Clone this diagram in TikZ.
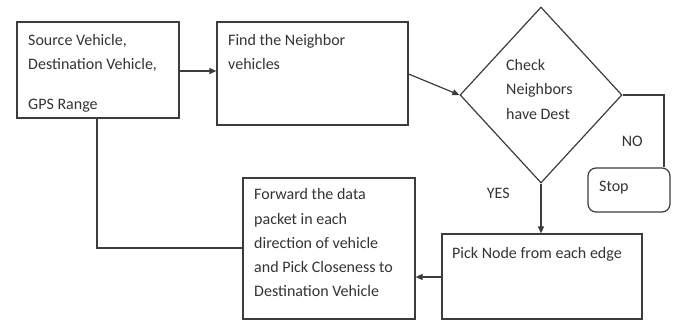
\documentclass[tikz,border=0pt]{standalone}
\usepackage{fontspec}
\setmainfont{Carlito}
\usetikzlibrary{shapes.geometric,arrows.meta}
\definecolor{ln}{HTML}{3C3C3C}
\definecolor{tx}{HTML}{333333}
\tikzset{
  box/.style={draw=ln,line width=1.2pt,rectangle,inner sep=0pt},
  txt/.style={text=tx,align=left,anchor=base west,inner sep=0pt,font=\fontsize{16}{24.3}\selectfont},
  conn/.style={draw=ln,line width=1.2pt},
  arr/.style={conn,-{Triangle[length=7pt,width=6pt]}},
}
\begin{document}
\begin{tikzpicture}[x=1pt,y=-1pt]
\useasboundingbox (0,0) rectangle (678,320);
% boxes
\node[box,minimum width=162pt,minimum height=96pt] (src) at (98,70) {};
\node[box,minimum width=191pt,minimum height=103pt] (find) at (312.5,73.5) {};
\node[box,shape=diamond,minimum width=162pt,minimum height=176pt] (chk) at (541,95) {};
\node[box,rounded corners=8pt,minimum width=82pt,minimum height=44pt] (stop) at (629,190) {};
\node[box,minimum width=200pt,minimum height=85pt] (pick) at (542,276.5) {};
\node[box,minimum width=172pt,minimum height=141pt] (fwd) at (329,248.5) {};
% texts (anchored at the baseline of their last line)
\node[txt] (tsrc) at (28,110) {Source Vehicle,\\Destination Vehicle,\\[16pt]GPS Range};
\node[txt] (tfind) at (228,69.5) {Find the Neighbor\\vehicles};
\node[txt] (tchk) at (506,119.3) {Check\\Neighbors\\have Dest};
\node[txt] (tstop) at (599,191.7) {Stop};
\node[txt] (tpick) at (452,259) {Pick Node from each edge};
\node[txt] (tfwd) at (254,297) {Forward the data\\packet in each\\direction of vehicle\\and Pick Closeness to\\Destination Vehicle};
\node[txt] (tno) at (621.7,146.7) {NO};
\node[txt] (tyes) at (486.7,198.3) {YES};
% connectors
\coordinate (c1) at (664,95);
\coordinate (c2) at (97,248);
\draw[arr] (src.east |- 0,71) -- (find.west |- 0,71);
\draw[arr] (find.east |- 0,74) -- (chk.west);
\draw[conn] (chk.east) -- (c1) -- (c1 |- stop.north);
\draw[arr] (chk.south) -- (pick.north -| chk.south);
\draw[arr] (pick.west |- 0,277) -- (fwd.east |- 0,277);
\draw[conn] (src.south -| c2) -- (c2) -- (fwd.west |- c2);
\end{tikzpicture}
\end{document}
